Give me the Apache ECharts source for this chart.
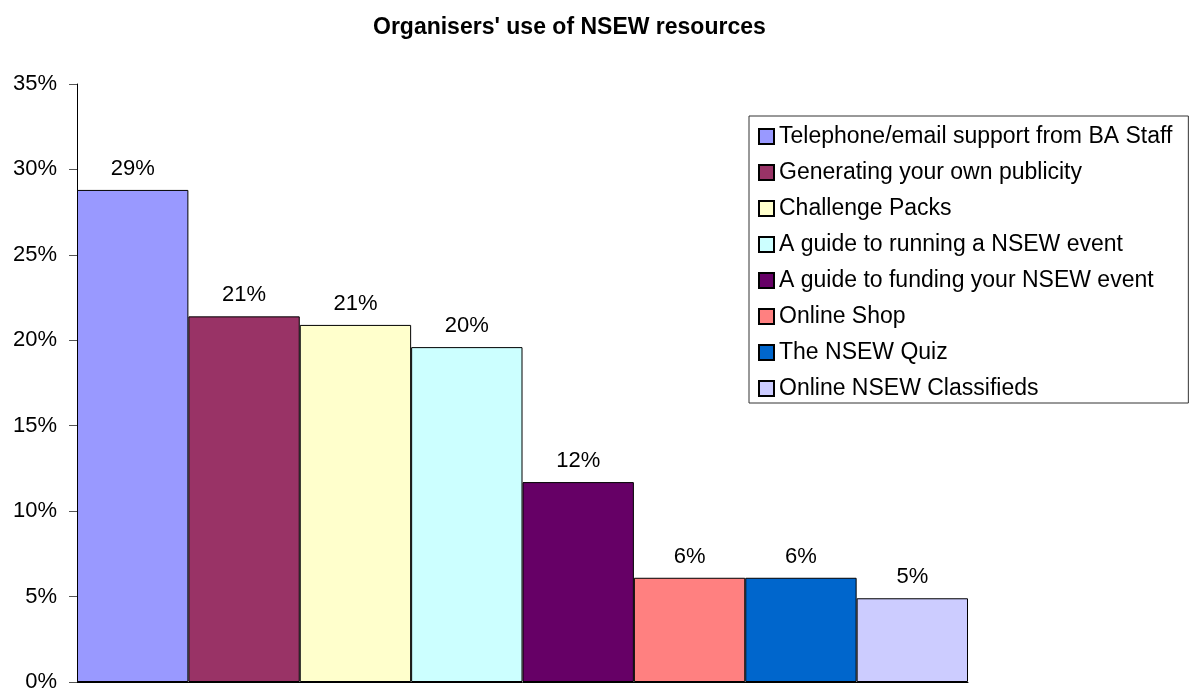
<!DOCTYPE html>
<html>
<head>
<meta charset="utf-8">
<title>Organisers' use of NSEW resources</title>
<script src="https://cdn.jsdelivr.net/npm/echarts@6/dist/echarts.min.js"></script>
<style>
  html, body { margin: 0; padding: 0; background: #fff; }
  #chart { width: 1195px; height: 693px; }
</style>
</head>
<body>
<div id="chart"></div>
<script>
// data (percent)
const resources = [
  'Telephone/email support from BA Staff',
  'Generating your own publicity',
  'Challenge Packs',
  'A guide to running a NSEW event',
  'A guide to funding your NSEW event',
  'Online Shop',
  'The NSEW Quiz',
  'Online NSEW Classifieds'
];
const shares = [28.8, 21.4, 20.9, 19.6, 11.7, 6.1, 6.1, 4.9];
const barColors = ['#9999FF', '#993366', '#FFFFCC', '#CCFFFF', '#660066', '#FF8080', '#0066CC', '#CCCCFF'];
const yTicks = [0, 5, 10, 15, 20, 25, 30, 35];

const font = '"Liberation Sans", Arial, sans-serif';

const series = resources.map((name, i) => ({
  name: name,
  type: 'bar',
  barGap: 0,
  barCategoryGap: 0,
  data: [shares[i]],
  itemStyle: {
    color: barColors[i],
    borderColor: '#000',
    borderWidth: 1
  },
  label: {
    show: true,
    position: 'top',
    distance: 10,
    fontFamily: font,
    fontSize: 22,
    color: '#000',
    formatter: p => Math.round(p.value) + '%'
  }
}));

const option = {
  animation: false,
  title: {
    text: "Organisers' use of NSEW resources",
    left: 368,
    top: 11,
    textStyle: { fontFamily: font, fontSize: 23, fontWeight: 'bold', color: '#000' }
  },
  legend: {
    orient: 'vertical',
    left: 749,
    top: 116,
    padding: [9, 16, 3, 9],
    borderColor: '#333',
    borderWidth: 1,
    itemWidth: 15,
    itemHeight: 15,
    itemGap: 13,
    icon: 'rect',
    textStyle: { fontFamily: font, fontSize: 23, color: '#000' },
    data: resources
  },
  grid: { left: 77, right: 227, top: 84, bottom: 10 },
  xAxis: {
    type: 'category',
    data: [''],
    axisLine: { lineStyle: { color: '#000' } },
    axisTick: { show: false },
    axisLabel: { show: false }
  },
  yAxis: {
    type: 'value',
    min: yTicks[0],
    max: yTicks[yTicks.length - 1],
    interval: 5,
    axisLine: { show: true, lineStyle: { color: '#000' } },
    axisTick: { show: true, length: 8, lineStyle: { color: '#555' } },
    splitLine: { show: false },
    axisLabel: {
      fontFamily: font,
      fontSize: 22,
      color: '#000',
      margin: 20,
      formatter: v => v + '%'
    }
  },
  series: series
};

echarts.init(document.getElementById('chart')).setOption(option);
</script>
</body>
</html>
